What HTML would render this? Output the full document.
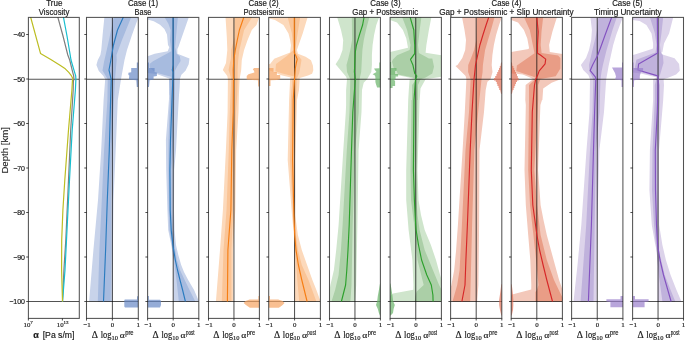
<!DOCTYPE html><html><head><meta charset="utf-8"><style>html,body{margin:0;padding:0;background:#fff;}svg{display:block;will-change:transform;}text{font-family:"Liberation Sans",sans-serif;stroke:#1a1a1a;stroke-width:0.18px;}text.s{font-family:"Liberation Serif",serif;}</style></head><body>
<svg width="685" height="340" viewBox="0 0 685 340">
<defs>
<clipPath id="c0"><rect x="28.40" y="17.40" width="50.90" height="301.00"/></clipPath>
<clipPath id="c1"><rect x="86.50" y="17.40" width="51.80" height="301.00"/></clipPath>
<clipPath id="c2"><rect x="147.60" y="17.40" width="51.20" height="301.00"/></clipPath>
<clipPath id="c3"><rect x="208.50" y="17.40" width="50.90" height="301.00"/></clipPath>
<clipPath id="c4"><rect x="268.70" y="17.40" width="51.70" height="301.00"/></clipPath>
<clipPath id="c5"><rect x="329.50" y="17.40" width="50.90" height="301.00"/></clipPath>
<clipPath id="c6"><rect x="390.10" y="17.40" width="51.30" height="301.00"/></clipPath>
<clipPath id="c7"><rect x="450.60" y="17.40" width="51.20" height="301.00"/></clipPath>
<clipPath id="c8"><rect x="511.20" y="17.40" width="51.20" height="301.00"/></clipPath>
<clipPath id="c9"><rect x="571.60" y="17.40" width="51.30" height="301.00"/></clipPath>
<clipPath id="c10"><rect x="632.60" y="17.40" width="50.90" height="301.00"/></clipPath>
</defs>
<g clip-path="url(#c0)">
<line x1="28.40" y1="79.30" x2="79.30" y2="79.30" stroke="#000" stroke-opacity="0.68" stroke-width="1.05"/>
<line x1="28.40" y1="301.50" x2="79.30" y2="301.50" stroke="#000" stroke-opacity="0.68" stroke-width="1.05"/>
<polyline points="57.8,17.0 63.0,36.0 67.8,55.0 69.7,60.0 72.3,70.6 73.7,75.9 73.9,79.1 73.4,81.0 73.2,90.0 70.7,130.0 68.5,180.0 65.8,240.0 63.9,270.0 62.5,301.5" fill="none" stroke="#7f7f7f" stroke-width="1.2" stroke-linejoin="round"/>
<polyline points="63.4,17.0 67.0,36.0 70.2,55.0 71.0,60.0 74.1,70.6 75.7,75.9 75.9,79.1 75.4,90.0 72.2,130.0 69.5,180.0 66.5,240.0 65.0,270.0 62.5,301.5" fill="none" stroke="#17becf" stroke-width="1.2" stroke-linejoin="round"/>
<polyline points="30.6,17.0 40.5,53.4 50.8,59.4 60.0,65.3 65.3,68.8 68.8,72.3 71.5,75.9 72.8,78.5 72.5,80.0 71.9,90.0 68.5,130.0 64.8,180.0 62.9,210.0 61.7,240.0 61.6,270.0 62.5,301.5" fill="none" stroke="#bcbd22" stroke-width="1.2" stroke-linejoin="round"/>
</g>
<g clip-path="url(#c1)">
<polygon points="104.4,17.0 102.6,35.0 101.3,50.0 100.4,55.0 97.8,60.0 96.4,65.0 98.8,71.0 103.4,76.0 105.2,79.3 103.6,100.0 101.2,150.0 98.0,200.0 93.4,250.0 89.1,301.5 112.5,301.5 112.9,250.0 113.5,200.0 115.7,150.0 117.8,100.0 121.0,79.3 124.5,60.0 127.0,50.0 132.0,35.0 138.5,17.0" fill="#c8d3ea"/>
<polygon points="113.8,17.0 109.0,40.0 105.6,55.0 104.0,62.0 102.5,70.4 107.7,79.3 107.4,100.0 104.1,150.0 101.8,200.0 99.4,250.0 97.8,301.5 110.7,301.5 111.3,250.0 111.0,200.0 111.4,150.0 114.0,100.0 115.0,79.3 116.7,60.0 116.5,55.0 122.0,40.0 131.3,17.0" fill="#a7bbdf"/>
<line x1="112.40" y1="17.40" x2="112.40" y2="318.40" stroke="#000" stroke-opacity="0.68" stroke-width="1.05"/>
<line x1="86.50" y1="79.30" x2="138.30" y2="79.30" stroke="#000" stroke-opacity="0.68" stroke-width="1.05"/>
<line x1="86.50" y1="301.50" x2="138.30" y2="301.50" stroke="#000" stroke-opacity="0.68" stroke-width="1.05"/>
<polyline points="123.4,17.0 117.5,30.0 113.5,45.0 111.7,55.0 110.5,62.0 109.0,70.0 111.2,79.3 110.6,100.0 109.3,150.0 107.3,200.0 105.6,250.0 103.5,301.5" fill="none" stroke="#2a7bbf" stroke-width="1.15" stroke-linejoin="round"/>
<polygon points="138.3,62.5 136.8,62.5 136.8,68.1 131.2,68.1 131.2,72.2 128.4,72.8 128.4,75.0 129.3,75.4 128.9,79.6 136.3,80.2 136.8,87.0 138.3,87.0" fill="#6889c6" fill-opacity="0.7"/>
<polygon points="138.3,296.2 137.0,296.2 137.0,299.4 124.8,299.4 124.3,300.2 124.3,306.5 125.0,307.4 138.3,307.4" fill="#6889c6" fill-opacity="0.7"/>
</g>
<g clip-path="url(#c2)">
<polygon points="147.6,17.0 188.9,17.0 178.4,47.0 177.4,49.0 177.4,53.8 189.5,58.6 188.7,64.3 185.5,70.7 181.4,74.8 179.8,79.3 179.0,95.0 169.3,95.0 170.0,79.3 168.4,78.2 156.6,74.1 147.6,73.0 147.6,56.2 154.7,53.8 167.7,51.3 169.3,47.3 168.0,45.0 167.0,34.4 164.4,29.1 160.0,24.7 153.8,21.2 147.6,19.4" fill="#c8d3ea"/>
<polygon points="170.0,79.3 169.3,95.0 165.9,140.0 166.2,170.0 167.4,210.0 168.2,230.0 171.3,245.0 173.4,260.0 173.4,301.5 199.0,301.5 194.1,290.0 188.2,280.0 184.0,272.0 181.2,265.0 178.3,255.0 176.0,245.0 174.5,230.0 174.0,210.0 174.2,170.0 176.0,150.0 179.0,95.0 179.8,79.3" fill="#c8d3ea"/>
<polygon points="164.4,17.0 177.9,17.0 175.1,47.0 176.6,53.8 179.8,56.2 180.6,61.0 177.4,65.9 175.0,70.7 175.0,79.3 174.5,100.0 170.0,100.0 169.3,79.3 171.9,77.0 155.4,72.4 149.5,67.6 149.5,64.1 153.0,61.2 171.3,51.2 170.0,40.0 170.6,30.0 168.4,23.8" fill="#a7bbdf"/>
<polygon points="169.3,79.3 170.0,100.0 168.5,140.0 168.4,170.0 168.7,210.0 169.5,230.0 171.8,245.0 174.1,260.0 176.5,280.0 178.8,301.5 195.3,301.5 189.5,290.0 184.7,280.0 180.0,270.0 176.9,260.0 174.5,245.0 172.5,230.0 171.8,210.0 171.6,170.0 173.4,140.0 174.5,100.0 175.0,79.3" fill="#a7bbdf"/>
<line x1="173.20" y1="17.40" x2="173.20" y2="318.40" stroke="#000" stroke-opacity="0.68" stroke-width="1.05"/>
<line x1="147.60" y1="79.30" x2="198.80" y2="79.30" stroke="#000" stroke-opacity="0.68" stroke-width="1.05"/>
<line x1="147.60" y1="301.50" x2="198.80" y2="301.50" stroke="#000" stroke-opacity="0.68" stroke-width="1.05"/>
<polyline points="173.1,17.0 173.1,65.0 172.3,70.0 173.1,72.0 172.0,100.0 170.5,140.0 169.9,170.0 170.2,210.0 171.2,230.0 172.9,245.0 175.3,260.0 177.5,270.0 180.0,280.0 182.6,290.0 185.4,301.5" fill="none" stroke="#2a7bbf" stroke-width="1.15" stroke-linejoin="round"/>
<polygon points="147.6,62.5 149.0,62.5 149.0,68.1 154.6,68.1 154.6,72.0 156.9,72.4 156.9,76.0 153.6,76.4 153.6,79.6 149.6,80.2 149.0,87.0 147.6,87.0" fill="#6889c6" fill-opacity="0.7"/>
<polygon points="147.6,296.0 148.9,296.0 148.9,299.7 160.1,299.7 161.0,301.0 161.0,305.0 160.0,307.4 147.6,307.4" fill="#6889c6" fill-opacity="0.7"/>
</g>
<g clip-path="url(#c3)">
<polygon points="225.5,17.0 226.8,37.0 227.3,50.0 226.0,62.9 222.8,70.1 227.3,75.9 227.9,79.3 227.6,112.0 225.9,150.0 222.9,210.0 220.0,250.0 215.9,301.5 233.2,301.5 233.2,250.0 235.3,210.0 236.2,150.0 238.5,112.0 238.9,94.0 239.6,79.3 241.2,70.0 241.8,60.0 244.1,50.0 247.6,40.0 251.8,30.0 256.5,25.0 259.2,17.0" fill="#fcd9bb"/>
<polygon points="234.8,17.0 234.6,37.0 231.2,50.0 230.9,59.0 229.9,62.9 228.6,70.1 230.5,75.9 231.2,79.3 229.8,112.0 228.8,150.0 226.5,210.0 223.5,250.0 221.8,301.5 231.5,301.5 231.5,250.0 233.0,210.0 235.0,150.0 236.0,112.0 237.3,94.0 237.6,79.3 237.6,70.0 238.2,60.0 239.4,50.0 241.8,40.0 244.1,30.0 252.3,17.0" fill="#fac496"/>
<line x1="233.95" y1="17.40" x2="233.95" y2="318.40" stroke="#000" stroke-opacity="0.68" stroke-width="1.05"/>
<line x1="208.50" y1="79.30" x2="259.40" y2="79.30" stroke="#000" stroke-opacity="0.68" stroke-width="1.05"/>
<line x1="208.50" y1="301.50" x2="259.40" y2="301.50" stroke="#000" stroke-opacity="0.68" stroke-width="1.05"/>
<polyline points="243.9,17.0 239.4,30.0 237.3,40.0 235.3,50.0 233.8,60.0 233.2,70.0 233.4,79.3 233.2,112.0 231.8,150.0 230.9,210.0 227.9,250.0 227.4,301.5" fill="none" stroke="#f67e14" stroke-width="1.15" stroke-linejoin="round"/>
<polygon points="259.4,68.1 254.0,68.1 252.8,69.4 254.0,70.8 254.4,72.5 248.4,74.2 246.7,76.0 246.7,79.6 257.9,80.3 258.2,86.5 259.4,86.5" fill="#f6a462" fill-opacity="0.7"/>
<polygon points="259.4,296.1 258.4,296.1 258.4,299.4 249.6,299.4 245.5,301.0 243.7,303.0 245.9,305.0 248.8,307.0 249.9,307.7 259.4,307.7" fill="#f6a462" fill-opacity="0.7"/>
</g>
<g clip-path="url(#c4)">
<polygon points="268.7,17.0 307.7,17.0 302.7,33.4 296.9,50.0 298.0,53.8 305.6,56.8 311.0,60.3 312.9,65.6 313.3,70.3 312.1,73.8 308.0,75.6 299.8,78.0 299.4,79.3 299.0,90.0 290.0,90.0 290.1,79.3 290.7,77.6 281.3,75.3 273.0,71.8 268.7,70.0 268.7,64.1 270.1,64.1 274.2,58.8 290.1,52.4 291.0,45.2 290.1,40.0 288.5,33.4 283.4,25.0 275.0,20.0 269.2,18.5" fill="#fcd9bb"/>
<polygon points="290.1,79.3 289.1,100.0 287.7,160.0 292.0,215.0 293.9,235.0 294.4,245.0 294.4,301.5 320.6,301.5 316.4,290.0 312.4,280.0 307.1,265.0 301.8,250.0 297.9,235.0 295.2,215.0 295.3,160.0 297.0,100.0 299.0,90.0 299.4,79.3" fill="#fcd9bb"/>
<polygon points="287.6,17.0 300.2,17.0 297.7,33.0 295.2,50.0 296.2,53.0 301.5,59.7 300.9,63.8 299.2,73.2 296.5,79.3 296.0,100.0 290.9,100.0 292.5,79.3 294.2,76.5 282.5,73.5 275.4,71.2 276.0,64.1 286.8,56.0 293.5,50.0 291.8,33.0" fill="#fac496"/>
<polygon points="292.5,79.3 290.9,100.0 290.0,160.0 293.0,215.0 294.3,235.0 295.2,250.0 297.3,280.0 299.2,301.5 316.4,301.5 308.5,280.0 301.8,265.0 297.9,250.0 296.0,235.0 294.7,215.0 294.0,160.0 296.0,100.0 296.5,79.3" fill="#fac496"/>
<line x1="294.55" y1="17.40" x2="294.55" y2="318.40" stroke="#000" stroke-opacity="0.68" stroke-width="1.05"/>
<line x1="268.70" y1="79.30" x2="320.40" y2="79.30" stroke="#000" stroke-opacity="0.68" stroke-width="1.05"/>
<line x1="268.70" y1="301.50" x2="320.40" y2="301.50" stroke="#000" stroke-opacity="0.68" stroke-width="1.05"/>
<polyline points="294.3,17.0 294.3,53.0 295.5,55.0 297.2,59.1 296.3,63.0 295.3,68.5 294.5,79.3 293.2,100.0 292.6,160.0 293.9,215.0 294.7,235.0 296.0,250.0 298.4,265.0 301.8,280.0 307.1,301.5" fill="none" stroke="#f67e14" stroke-width="1.15" stroke-linejoin="round"/>
<polygon points="268.7,68.1 273.5,68.1 273.5,72.0 276.9,72.0 276.9,75.0 280.2,75.0 280.2,79.3 276.9,80.0 270.5,80.3 270.5,86.0 268.7,86.0" fill="#f6a462" fill-opacity="0.7"/>
<polygon points="268.7,296.1 270.0,296.1 270.0,299.4 278.2,299.4 282.6,301.0 284.5,303.0 282.6,305.0 280.0,307.0 278.7,307.7 268.7,307.7" fill="#f6a462" fill-opacity="0.7"/>
</g>
<g clip-path="url(#c5)">
<polygon points="337.1,17.0 341.0,30.0 343.2,40.0 342.5,50.0 339.6,58.0 335.6,64.3 341.9,71.8 346.1,76.8 347.0,79.3 346.1,90.0 346.1,105.0 345.8,112.0 343.3,150.0 338.6,225.0 336.2,250.0 333.9,270.0 330.4,285.0 329.5,290.0 329.5,301.5 355.1,301.5 356.2,285.0 357.4,225.0 358.6,150.0 361.5,112.0 362.0,90.0 363.7,82.7 367.1,79.3 371.3,72.0 371.9,65.0 371.9,55.0 372.6,45.0 374.1,35.0 376.3,25.0 379.3,17.0" fill="#cfe5cc"/>
<polygon points="351.8,17.0 352.1,40.0 350.3,50.0 348.4,58.0 346.5,65.0 347.0,72.0 350.3,79.3 349.5,112.0 346.8,150.0 342.6,225.0 340.9,250.0 338.6,275.0 335.1,290.0 331.5,301.5 350.4,301.5 351.5,285.0 352.7,225.0 355.1,150.0 358.7,112.0 359.5,79.3 361.2,72.0 361.6,65.0 362.4,50.0 363.8,40.0 366.0,30.0 369.4,17.0" fill="#abcfa7"/>
<line x1="354.95" y1="17.40" x2="354.95" y2="318.40" stroke="#000" stroke-opacity="0.68" stroke-width="1.05"/>
<line x1="329.50" y1="79.30" x2="380.40" y2="79.30" stroke="#000" stroke-opacity="0.68" stroke-width="1.05"/>
<line x1="329.50" y1="301.50" x2="380.40" y2="301.50" stroke="#000" stroke-opacity="0.68" stroke-width="1.05"/>
<polyline points="364.1,17.0 362.6,25.0 359.4,35.0 356.5,45.0 355.3,52.0 354.7,65.0 354.4,72.0 355.3,79.3 352.8,112.0 351.5,150.0 349.2,225.0 348.0,250.0 346.8,270.0 345.6,285.0 341.4,301.5" fill="none" stroke="#2ca02c" stroke-width="1.15" stroke-linejoin="round"/>
<polygon points="380.4,62.5 379.3,62.5 379.3,68.3 374.1,68.5 374.9,70.0 376.5,72.0 372.6,74.2 374.9,75.5 375.4,77.0 375.4,82.0 375.9,84.0 377.1,87.6 380.4,87.6" fill="#68b468" fill-opacity="0.7"/>
<polygon points="380.4,283.6 380.0,283.6 378.9,290.0 377.8,296.0 377.2,301.0 376.0,305.0 377.8,309.0 378.9,313.0 379.9,315.4 380.4,315.4" fill="#68b468" fill-opacity="0.7"/>
</g>
<g clip-path="url(#c6)">
<polygon points="390.1,17.0 431.4,17.0 428.9,30.0 426.4,45.0 425.6,52.7 441.4,55.2 441.4,76.8 425.6,79.3 420.5,88.5 419.7,100.0 408.2,100.0 408.8,90.0 409.6,79.3 414.7,79.3 408.8,77.6 397.0,75.1 390.1,75.1 390.1,51.9 408.0,47.7 406.3,38.5 402.9,30.0 397.0,22.5 390.1,20.0" fill="#cfe5cc"/>
<polygon points="408.2,100.0 406.2,170.0 406.2,200.0 408.6,230.0 412.4,260.0 413.4,285.0 413.3,289.7 393.0,293.5 390.1,296.0 390.1,301.5 441.6,301.5 441.6,280.0 440.1,275.0 436.0,260.0 430.9,245.0 424.7,230.0 421.0,215.0 418.5,200.0 417.5,170.0 419.6,100.0" fill="#cfe5cc"/>
<polygon points="402.1,17.0 421.4,17.0 419.7,30.0 418.0,45.0 418.9,53.0 428.9,58.6 432.3,58.4 434.0,66.7 432.3,73.4 425.6,77.6 420.5,79.3 418.0,85.0 418.0,100.0 412.0,100.0 412.1,85.0 416.3,79.3 412.1,77.2 408.0,76.5 398.0,74.5 396.5,70.5 393.7,68.0 392.0,61.7 392.9,59.4 397.1,55.2 409.6,50.0 410.5,45.0 407.1,30.0" fill="#abcfa7"/>
<polygon points="411.5,100.0 410.5,170.0 411.0,200.0 414.8,230.0 417.5,260.0 423.7,285.0 416.5,291.8 415.4,296.6 414.8,301.5 441.6,301.5 441.6,290.0 439.1,285.0 432.9,270.0 424.7,250.0 419.6,230.0 417.5,215.0 416.5,200.0 416.0,170.0 417.5,100.0" fill="#abcfa7"/>
<line x1="415.75" y1="17.40" x2="415.75" y2="318.40" stroke="#000" stroke-opacity="0.68" stroke-width="1.05"/>
<line x1="390.10" y1="79.30" x2="441.40" y2="79.30" stroke="#000" stroke-opacity="0.68" stroke-width="1.05"/>
<line x1="390.10" y1="301.50" x2="441.40" y2="301.50" stroke="#000" stroke-opacity="0.68" stroke-width="1.05"/>
<polyline points="410.1,17.0 413.8,30.0 414.7,45.0 414.7,53.6 410.5,59.4 413.0,65.3 414.7,73.4 416.8,76.0 415.5,79.3 414.0,100.0 413.4,170.0 414.4,200.0 415.4,220.0 416.1,230.0 418.5,245.0 421.6,260.0 426.8,275.0 431.3,285.0 432.9,295.0 433.1,301.5" fill="none" stroke="#2ca02c" stroke-width="1.15" stroke-linejoin="round"/>
<polygon points="390.1,62.0 391.1,62.0 391.1,68.0 396.5,68.0 396.5,71.0 395.1,71.0 395.1,74.0 398.1,74.0 398.1,76.5 395.6,76.5 395.6,79.0 394.6,79.0 394.6,81.0 395.1,81.0 395.1,86.0 392.6,86.0 392.6,88.0 390.1,88.0" fill="#68b468" fill-opacity="0.7"/>
<polygon points="390.1,283.6 390.5,283.6 391.6,290.0 392.5,296.0 393.1,301.0 394.8,305.0 393.6,309.0 393.0,313.0 390.6,315.4 390.1,315.4" fill="#68b468" fill-opacity="0.7"/>
</g>
<g clip-path="url(#c7)">
<polygon points="462.0,17.0 464.5,30.0 466.0,40.0 465.2,50.0 462.3,58.0 457.5,65.0 455.5,66.0 460.6,70.9 465.6,76.0 466.4,79.3 464.8,112.0 462.6,150.0 457.9,225.0 456.1,250.0 454.2,270.0 451.4,285.0 450.6,288.0 450.6,301.5 477.2,301.5 478.4,285.0 479.1,225.0 479.5,150.0 484.0,112.0 485.7,90.0 487.4,81.8 490.5,79.3 492.5,72.0 491.7,65.0 492.4,55.0 493.9,45.0 496.1,35.0 499.1,25.0 501.8,17.0" fill="#f3c8ba"/>
<polygon points="477.0,17.0 476.3,40.0 474.1,50.0 471.1,58.0 468.2,65.0 468.1,72.0 470.6,79.3 469.0,112.0 465.5,150.0 461.9,225.0 459.6,270.0 457.2,285.0 452.5,301.5 470.2,301.5 470.6,285.0 472.1,225.0 474.4,150.0 478.2,112.0 481.5,79.3 482.6,72.0 482.9,65.0 485.1,50.0 488.0,40.0 491.0,30.0 494.6,17.0" fill="#e99d86"/>
<line x1="476.20" y1="17.40" x2="476.20" y2="318.40" stroke="#000" stroke-opacity="0.68" stroke-width="1.05"/>
<line x1="450.60" y1="79.30" x2="501.80" y2="79.30" stroke="#000" stroke-opacity="0.68" stroke-width="1.05"/>
<line x1="450.60" y1="301.50" x2="501.80" y2="301.50" stroke="#000" stroke-opacity="0.68" stroke-width="1.05"/>
<polyline points="488.8,17.0 486.1,25.0 482.9,35.0 479.9,45.0 477.7,55.0 475.5,65.0 474.8,72.0 474.0,79.3 472.0,112.0 470.2,150.0 467.4,225.0 465.9,260.0 465.0,285.0 461.9,301.5" fill="none" stroke="#d62728" stroke-width="1.15" stroke-linejoin="round"/>
<polygon points="501.8,62.5 501.0,62.5 500.6,66.0 499.8,66.0 499.8,68.0 499.0,68.0 499.0,70.0 498.2,70.0 498.2,72.0 497.2,72.0 497.2,74.0 496.4,74.0 496.4,76.0 495.2,76.0 495.2,78.0 494.0,78.0 494.0,80.5 495.8,80.5 495.8,82.0 496.8,82.0 496.8,84.0 497.4,84.0 497.4,86.0 498.5,86.0 498.5,88.0 499.2,88.0 499.2,90.0 500.2,90.0 501.0,93.8 501.8,93.8" fill="#df6f55" fill-opacity="0.7"/>
<polygon points="501.8,284.2 501.3,284.2 500.3,292.0 499.2,300.0 499.2,305.0 500.0,310.0 501.3,315.4 501.8,315.4" fill="#df6f55" fill-opacity="0.7"/>
</g>
<g clip-path="url(#c8)">
<polygon points="511.2,17.0 557.0,17.0 552.4,31.8 549.1,45.0 549.8,52.0 562.4,54.0 562.4,78.5 551.6,82.7 543.2,88.5 542.4,100.0 525.3,100.0 525.6,85.0 533.1,79.3 530.0,77.5 522.8,74.5 516.4,73.8 511.2,73.4 511.2,52.0 528.6,49.0 529.0,47.7 527.3,38.5 523.9,30.1 518.0,22.5 511.2,20.0" fill="#f3c8ba"/>
<polygon points="525.3,100.0 525.8,105.0 524.5,170.0 525.8,205.0 528.2,235.0 530.3,260.0 531.3,285.0 531.2,289.6 512.1,294.6 511.2,296.0 511.2,301.5 562.6,301.5 562.6,290.0 559.1,280.0 555.0,265.0 550.9,250.0 546.8,235.0 543.5,220.0 540.6,205.0 538.1,170.0 540.4,105.0 542.0,100.0" fill="#f3c8ba"/>
<polygon points="523.9,17.0 543.2,17.0 541.5,31.8 540.7,45.0 541.6,53.0 558.1,55.6 560.4,57.9 560.4,68.5 555.7,76.2 540.4,79.1 538.2,85.0 538.2,100.0 529.0,100.0 529.0,85.0 536.3,78.0 532.2,76.2 522.8,73.2 516.3,70.9 516.9,65.6 534.5,53.2 532.8,45.0 529.8,30.0" fill="#e99d86"/>
<polygon points="529.0,100.0 528.2,170.0 530.0,205.0 533.4,235.0 536.1,260.0 538.5,285.0 537.0,290.0 535.4,292.0 535.4,301.5 562.6,301.5 562.6,298.0 561.2,295.0 554.0,280.0 546.8,260.0 540.6,235.0 537.0,205.0 534.4,170.0 538.2,100.0" fill="#e99d86"/>
<line x1="536.80" y1="17.40" x2="536.80" y2="318.40" stroke="#000" stroke-opacity="0.68" stroke-width="1.05"/>
<line x1="511.20" y1="79.30" x2="562.40" y2="79.30" stroke="#000" stroke-opacity="0.68" stroke-width="1.05"/>
<line x1="511.20" y1="301.50" x2="562.40" y2="301.50" stroke="#000" stroke-opacity="0.68" stroke-width="1.05"/>
<polyline points="536.8,17.0 538.2,31.8 537.5,45.0 537.5,53.2 540.4,55.0 545.7,59.1 545.1,63.8 542.2,67.4 539.2,70.9 537.5,75.6 535.7,79.3 534.5,85.0 532.3,112.0 531.3,170.0 532.8,205.0 536.9,235.0 539.6,250.0 543.1,265.0 546.8,280.0 552.5,301.5" fill="none" stroke="#d62728" stroke-width="1.15" stroke-linejoin="round"/>
<polygon points="511.2,62.5 512.0,62.5 512.4,66.0 513.4,66.0 513.4,68.0 514.2,68.0 514.2,70.0 515.0,70.0 515.0,72.0 516.0,72.0 516.0,74.0 517.0,74.0 517.0,76.0 517.8,76.0 517.8,78.0 518.6,78.0 518.6,80.5 517.0,80.5 517.0,82.0 516.0,82.0 516.0,84.0 515.2,84.0 515.2,86.0 514.4,86.0 514.4,88.0 513.6,88.0 513.6,90.0 512.8,90.0 512.0,93.8 511.2,93.8" fill="#df6f55" fill-opacity="0.7"/>
<polygon points="511.2,284.2 511.7,284.2 512.7,292.0 513.3,300.0 513.3,305.0 513.0,310.0 511.7,315.4 511.2,315.4" fill="#df6f55" fill-opacity="0.7"/>
</g>
<g clip-path="url(#c9)">
<polygon points="590.4,17.0 591.9,30.0 591.2,40.0 589.0,50.0 586.0,58.0 580.9,65.0 583.2,70.1 588.3,75.1 590.0,79.3 589.5,112.0 586.5,150.0 581.3,225.0 577.5,265.0 573.5,301.5 596.6,301.5 597.3,225.0 599.4,150.0 604.0,112.0 606.2,79.3 607.0,75.0 608.8,65.0 611.0,55.0 613.2,45.0 616.2,35.0 619.9,25.0 622.9,17.0" fill="#dcd3ea"/>
<polygon points="598.5,17.0 597.1,30.0 594.9,40.0 592.4,50.0 589.0,65.0 589.5,72.0 593.3,79.3 592.5,112.0 590.0,150.0 586.2,225.0 580.6,301.5 593.5,301.5 594.7,225.0 595.9,150.0 599.5,112.0 600.5,79.3 601.5,72.0 602.9,65.0 606.6,50.0 609.6,40.0 612.5,30.0 616.9,17.0" fill="#c0b2dc"/>
<line x1="597.25" y1="17.40" x2="597.25" y2="318.40" stroke="#000" stroke-opacity="0.68" stroke-width="1.05"/>
<line x1="571.60" y1="79.30" x2="622.90" y2="79.30" stroke="#000" stroke-opacity="0.68" stroke-width="1.05"/>
<line x1="571.60" y1="301.50" x2="622.90" y2="301.50" stroke="#000" stroke-opacity="0.68" stroke-width="1.05"/>
<polyline points="611.8,17.0 608.8,25.0 605.1,35.0 601.5,45.0 597.8,55.0 592.6,65.0 590.2,70.6 595.5,77.2 595.8,79.3 594.6,112.0 593.5,150.0 591.4,225.0 588.4,301.5" fill="none" stroke="#8352c0" stroke-width="1.15" stroke-linejoin="round"/>
<polygon points="622.9,62.5 622.0,62.5 622.0,67.5 612.0,67.5 615.0,73.0 616.0,76.5 615.0,79.5 621.5,80.2 621.5,87.0 622.9,87.0" fill="#9a7fcc" fill-opacity="0.7"/>
<polygon points="622.9,296.0 620.5,296.0 620.5,299.2 606.4,299.2 606.4,301.6 610.4,302.0 610.4,307.3 622.9,307.3" fill="#9a7fcc" fill-opacity="0.7"/>
</g>
<g clip-path="url(#c10)">
<polygon points="632.6,17.0 673.3,17.0 669.1,33.4 664.0,43.5 662.4,52.0 660.0,53.8 674.6,58.2 679.1,64.1 679.8,70.7 676.1,74.4 668.8,77.4 663.6,79.3 664.0,85.0 663.2,100.0 653.1,100.0 653.1,79.3 657.0,77.5 640.8,73.5 632.6,72.6 632.6,55.0 634.9,54.6 652.6,48.7 653.1,47.7 653.1,43.5 651.5,33.4 646.4,25.0 639.7,20.9 632.6,20.0" fill="#dcd3ea"/>
<polygon points="653.1,100.0 649.9,150.0 649.4,190.0 651.8,225.0 655.3,245.0 657.6,255.0 657.6,301.5 681.4,301.5 676.5,290.0 670.6,275.0 665.9,260.0 662.4,245.0 659.2,225.0 659.0,190.0 659.0,150.0 663.2,100.0" fill="#dcd3ea"/>
<polygon points="649.8,17.0 663.2,17.0 661.5,33.0 659.9,45.0 660.7,52.0 662.9,55.3 663.5,63.0 660.0,75.0 658.2,79.3 659.9,85.0 659.9,100.0 654.8,100.0 654.8,85.0 657.0,76.6 640.8,72.2 634.9,70.0 634.9,67.0 636.4,59.7 655.5,52.4 656.5,45.0 654.8,33.0" fill="#c0b2dc"/>
<polygon points="654.8,100.0 652.5,150.0 652.0,190.0 654.0,225.0 656.5,250.0 658.8,275.0 662.4,301.5 675.3,301.5 670.6,290.0 664.7,275.0 658.8,250.0 657.8,225.0 657.5,190.0 657.5,150.0 659.9,100.0" fill="#c0b2dc"/>
<line x1="658.05" y1="17.40" x2="658.05" y2="318.40" stroke="#000" stroke-opacity="0.68" stroke-width="1.05"/>
<line x1="632.60" y1="79.30" x2="683.50" y2="79.30" stroke="#000" stroke-opacity="0.68" stroke-width="1.05"/>
<line x1="632.60" y1="301.50" x2="683.50" y2="301.50" stroke="#000" stroke-opacity="0.68" stroke-width="1.05"/>
<polyline points="657.3,17.0 657.7,53.1 638.6,64.1 637.9,70.0 657.7,75.9 658.2,79.3 657.3,112.0 655.3,150.0 655.5,190.0 656.5,225.0 657.6,245.0 660.0,260.0 663.5,275.0 667.8,290.0 671.1,301.5" fill="none" stroke="#8352c0" stroke-width="1.15" stroke-linejoin="round"/>
<polygon points="632.6,62.5 633.6,62.5 633.6,68.1 643.1,68.1 643.1,70.9 640.9,72.0 639.8,76.0 639.8,79.5 634.1,80.2 633.8,87.0 632.6,87.0" fill="#9a7fcc" fill-opacity="0.7"/>
<polygon points="632.6,296.0 635.0,296.0 635.0,299.2 648.6,299.2 648.6,301.6 644.6,302.0 644.6,307.3 632.6,307.3" fill="#9a7fcc" fill-opacity="0.7"/>
</g>
<rect x="28.40" y="17.40" width="50.90" height="301.00" fill="none" stroke="#000" stroke-opacity="0.68" stroke-width="1.05"/>
<line x1="26.20" y1="34.50" x2="28.40" y2="34.50" stroke="#000" stroke-opacity="0.68" stroke-width="1.05"/>
<line x1="26.20" y1="79.00" x2="28.40" y2="79.00" stroke="#000" stroke-opacity="0.68" stroke-width="1.05"/>
<line x1="26.20" y1="123.50" x2="28.40" y2="123.50" stroke="#000" stroke-opacity="0.68" stroke-width="1.05"/>
<line x1="26.20" y1="168.00" x2="28.40" y2="168.00" stroke="#000" stroke-opacity="0.68" stroke-width="1.05"/>
<line x1="26.20" y1="212.50" x2="28.40" y2="212.50" stroke="#000" stroke-opacity="0.68" stroke-width="1.05"/>
<line x1="26.20" y1="257.00" x2="28.40" y2="257.00" stroke="#000" stroke-opacity="0.68" stroke-width="1.05"/>
<line x1="26.20" y1="301.50" x2="28.40" y2="301.50" stroke="#000" stroke-opacity="0.68" stroke-width="1.05"/>
<line x1="28.40" y1="318.40" x2="28.40" y2="320.60" stroke="#000" stroke-opacity="0.68" stroke-width="1.05"/>
<line x1="62.40" y1="318.40" x2="62.40" y2="320.60" stroke="#000" stroke-opacity="0.68" stroke-width="1.05"/>
<rect x="86.50" y="17.40" width="51.80" height="301.00" fill="none" stroke="#000" stroke-opacity="0.68" stroke-width="1.05"/>
<line x1="84.30" y1="34.50" x2="86.50" y2="34.50" stroke="#000" stroke-opacity="0.68" stroke-width="1.05"/>
<line x1="84.30" y1="79.00" x2="86.50" y2="79.00" stroke="#000" stroke-opacity="0.68" stroke-width="1.05"/>
<line x1="84.30" y1="123.50" x2="86.50" y2="123.50" stroke="#000" stroke-opacity="0.68" stroke-width="1.05"/>
<line x1="84.30" y1="168.00" x2="86.50" y2="168.00" stroke="#000" stroke-opacity="0.68" stroke-width="1.05"/>
<line x1="84.30" y1="212.50" x2="86.50" y2="212.50" stroke="#000" stroke-opacity="0.68" stroke-width="1.05"/>
<line x1="84.30" y1="257.00" x2="86.50" y2="257.00" stroke="#000" stroke-opacity="0.68" stroke-width="1.05"/>
<line x1="84.30" y1="301.50" x2="86.50" y2="301.50" stroke="#000" stroke-opacity="0.68" stroke-width="1.05"/>
<line x1="86.50" y1="318.40" x2="86.50" y2="320.60" stroke="#000" stroke-opacity="0.68" stroke-width="1.05"/>
<line x1="112.40" y1="318.40" x2="112.40" y2="320.60" stroke="#000" stroke-opacity="0.68" stroke-width="1.05"/>
<line x1="138.30" y1="318.40" x2="138.30" y2="320.60" stroke="#000" stroke-opacity="0.68" stroke-width="1.05"/>
<rect x="147.60" y="17.40" width="51.20" height="301.00" fill="none" stroke="#000" stroke-opacity="0.68" stroke-width="1.05"/>
<line x1="145.40" y1="34.50" x2="147.60" y2="34.50" stroke="#000" stroke-opacity="0.68" stroke-width="1.05"/>
<line x1="145.40" y1="79.00" x2="147.60" y2="79.00" stroke="#000" stroke-opacity="0.68" stroke-width="1.05"/>
<line x1="145.40" y1="123.50" x2="147.60" y2="123.50" stroke="#000" stroke-opacity="0.68" stroke-width="1.05"/>
<line x1="145.40" y1="168.00" x2="147.60" y2="168.00" stroke="#000" stroke-opacity="0.68" stroke-width="1.05"/>
<line x1="145.40" y1="212.50" x2="147.60" y2="212.50" stroke="#000" stroke-opacity="0.68" stroke-width="1.05"/>
<line x1="145.40" y1="257.00" x2="147.60" y2="257.00" stroke="#000" stroke-opacity="0.68" stroke-width="1.05"/>
<line x1="145.40" y1="301.50" x2="147.60" y2="301.50" stroke="#000" stroke-opacity="0.68" stroke-width="1.05"/>
<line x1="147.60" y1="318.40" x2="147.60" y2="320.60" stroke="#000" stroke-opacity="0.68" stroke-width="1.05"/>
<line x1="173.20" y1="318.40" x2="173.20" y2="320.60" stroke="#000" stroke-opacity="0.68" stroke-width="1.05"/>
<line x1="198.80" y1="318.40" x2="198.80" y2="320.60" stroke="#000" stroke-opacity="0.68" stroke-width="1.05"/>
<rect x="208.50" y="17.40" width="50.90" height="301.00" fill="none" stroke="#000" stroke-opacity="0.68" stroke-width="1.05"/>
<line x1="206.30" y1="34.50" x2="208.50" y2="34.50" stroke="#000" stroke-opacity="0.68" stroke-width="1.05"/>
<line x1="206.30" y1="79.00" x2="208.50" y2="79.00" stroke="#000" stroke-opacity="0.68" stroke-width="1.05"/>
<line x1="206.30" y1="123.50" x2="208.50" y2="123.50" stroke="#000" stroke-opacity="0.68" stroke-width="1.05"/>
<line x1="206.30" y1="168.00" x2="208.50" y2="168.00" stroke="#000" stroke-opacity="0.68" stroke-width="1.05"/>
<line x1="206.30" y1="212.50" x2="208.50" y2="212.50" stroke="#000" stroke-opacity="0.68" stroke-width="1.05"/>
<line x1="206.30" y1="257.00" x2="208.50" y2="257.00" stroke="#000" stroke-opacity="0.68" stroke-width="1.05"/>
<line x1="206.30" y1="301.50" x2="208.50" y2="301.50" stroke="#000" stroke-opacity="0.68" stroke-width="1.05"/>
<line x1="208.50" y1="318.40" x2="208.50" y2="320.60" stroke="#000" stroke-opacity="0.68" stroke-width="1.05"/>
<line x1="233.95" y1="318.40" x2="233.95" y2="320.60" stroke="#000" stroke-opacity="0.68" stroke-width="1.05"/>
<line x1="259.40" y1="318.40" x2="259.40" y2="320.60" stroke="#000" stroke-opacity="0.68" stroke-width="1.05"/>
<rect x="268.70" y="17.40" width="51.70" height="301.00" fill="none" stroke="#000" stroke-opacity="0.68" stroke-width="1.05"/>
<line x1="266.50" y1="34.50" x2="268.70" y2="34.50" stroke="#000" stroke-opacity="0.68" stroke-width="1.05"/>
<line x1="266.50" y1="79.00" x2="268.70" y2="79.00" stroke="#000" stroke-opacity="0.68" stroke-width="1.05"/>
<line x1="266.50" y1="123.50" x2="268.70" y2="123.50" stroke="#000" stroke-opacity="0.68" stroke-width="1.05"/>
<line x1="266.50" y1="168.00" x2="268.70" y2="168.00" stroke="#000" stroke-opacity="0.68" stroke-width="1.05"/>
<line x1="266.50" y1="212.50" x2="268.70" y2="212.50" stroke="#000" stroke-opacity="0.68" stroke-width="1.05"/>
<line x1="266.50" y1="257.00" x2="268.70" y2="257.00" stroke="#000" stroke-opacity="0.68" stroke-width="1.05"/>
<line x1="266.50" y1="301.50" x2="268.70" y2="301.50" stroke="#000" stroke-opacity="0.68" stroke-width="1.05"/>
<line x1="268.70" y1="318.40" x2="268.70" y2="320.60" stroke="#000" stroke-opacity="0.68" stroke-width="1.05"/>
<line x1="294.55" y1="318.40" x2="294.55" y2="320.60" stroke="#000" stroke-opacity="0.68" stroke-width="1.05"/>
<line x1="320.40" y1="318.40" x2="320.40" y2="320.60" stroke="#000" stroke-opacity="0.68" stroke-width="1.05"/>
<rect x="329.50" y="17.40" width="50.90" height="301.00" fill="none" stroke="#000" stroke-opacity="0.68" stroke-width="1.05"/>
<line x1="327.30" y1="34.50" x2="329.50" y2="34.50" stroke="#000" stroke-opacity="0.68" stroke-width="1.05"/>
<line x1="327.30" y1="79.00" x2="329.50" y2="79.00" stroke="#000" stroke-opacity="0.68" stroke-width="1.05"/>
<line x1="327.30" y1="123.50" x2="329.50" y2="123.50" stroke="#000" stroke-opacity="0.68" stroke-width="1.05"/>
<line x1="327.30" y1="168.00" x2="329.50" y2="168.00" stroke="#000" stroke-opacity="0.68" stroke-width="1.05"/>
<line x1="327.30" y1="212.50" x2="329.50" y2="212.50" stroke="#000" stroke-opacity="0.68" stroke-width="1.05"/>
<line x1="327.30" y1="257.00" x2="329.50" y2="257.00" stroke="#000" stroke-opacity="0.68" stroke-width="1.05"/>
<line x1="327.30" y1="301.50" x2="329.50" y2="301.50" stroke="#000" stroke-opacity="0.68" stroke-width="1.05"/>
<line x1="329.50" y1="318.40" x2="329.50" y2="320.60" stroke="#000" stroke-opacity="0.68" stroke-width="1.05"/>
<line x1="354.95" y1="318.40" x2="354.95" y2="320.60" stroke="#000" stroke-opacity="0.68" stroke-width="1.05"/>
<line x1="380.40" y1="318.40" x2="380.40" y2="320.60" stroke="#000" stroke-opacity="0.68" stroke-width="1.05"/>
<rect x="390.10" y="17.40" width="51.30" height="301.00" fill="none" stroke="#000" stroke-opacity="0.68" stroke-width="1.05"/>
<line x1="387.90" y1="34.50" x2="390.10" y2="34.50" stroke="#000" stroke-opacity="0.68" stroke-width="1.05"/>
<line x1="387.90" y1="79.00" x2="390.10" y2="79.00" stroke="#000" stroke-opacity="0.68" stroke-width="1.05"/>
<line x1="387.90" y1="123.50" x2="390.10" y2="123.50" stroke="#000" stroke-opacity="0.68" stroke-width="1.05"/>
<line x1="387.90" y1="168.00" x2="390.10" y2="168.00" stroke="#000" stroke-opacity="0.68" stroke-width="1.05"/>
<line x1="387.90" y1="212.50" x2="390.10" y2="212.50" stroke="#000" stroke-opacity="0.68" stroke-width="1.05"/>
<line x1="387.90" y1="257.00" x2="390.10" y2="257.00" stroke="#000" stroke-opacity="0.68" stroke-width="1.05"/>
<line x1="387.90" y1="301.50" x2="390.10" y2="301.50" stroke="#000" stroke-opacity="0.68" stroke-width="1.05"/>
<line x1="390.10" y1="318.40" x2="390.10" y2="320.60" stroke="#000" stroke-opacity="0.68" stroke-width="1.05"/>
<line x1="415.75" y1="318.40" x2="415.75" y2="320.60" stroke="#000" stroke-opacity="0.68" stroke-width="1.05"/>
<line x1="441.40" y1="318.40" x2="441.40" y2="320.60" stroke="#000" stroke-opacity="0.68" stroke-width="1.05"/>
<rect x="450.60" y="17.40" width="51.20" height="301.00" fill="none" stroke="#000" stroke-opacity="0.68" stroke-width="1.05"/>
<line x1="448.40" y1="34.50" x2="450.60" y2="34.50" stroke="#000" stroke-opacity="0.68" stroke-width="1.05"/>
<line x1="448.40" y1="79.00" x2="450.60" y2="79.00" stroke="#000" stroke-opacity="0.68" stroke-width="1.05"/>
<line x1="448.40" y1="123.50" x2="450.60" y2="123.50" stroke="#000" stroke-opacity="0.68" stroke-width="1.05"/>
<line x1="448.40" y1="168.00" x2="450.60" y2="168.00" stroke="#000" stroke-opacity="0.68" stroke-width="1.05"/>
<line x1="448.40" y1="212.50" x2="450.60" y2="212.50" stroke="#000" stroke-opacity="0.68" stroke-width="1.05"/>
<line x1="448.40" y1="257.00" x2="450.60" y2="257.00" stroke="#000" stroke-opacity="0.68" stroke-width="1.05"/>
<line x1="448.40" y1="301.50" x2="450.60" y2="301.50" stroke="#000" stroke-opacity="0.68" stroke-width="1.05"/>
<line x1="450.60" y1="318.40" x2="450.60" y2="320.60" stroke="#000" stroke-opacity="0.68" stroke-width="1.05"/>
<line x1="476.20" y1="318.40" x2="476.20" y2="320.60" stroke="#000" stroke-opacity="0.68" stroke-width="1.05"/>
<line x1="501.80" y1="318.40" x2="501.80" y2="320.60" stroke="#000" stroke-opacity="0.68" stroke-width="1.05"/>
<rect x="511.20" y="17.40" width="51.20" height="301.00" fill="none" stroke="#000" stroke-opacity="0.68" stroke-width="1.05"/>
<line x1="509.00" y1="34.50" x2="511.20" y2="34.50" stroke="#000" stroke-opacity="0.68" stroke-width="1.05"/>
<line x1="509.00" y1="79.00" x2="511.20" y2="79.00" stroke="#000" stroke-opacity="0.68" stroke-width="1.05"/>
<line x1="509.00" y1="123.50" x2="511.20" y2="123.50" stroke="#000" stroke-opacity="0.68" stroke-width="1.05"/>
<line x1="509.00" y1="168.00" x2="511.20" y2="168.00" stroke="#000" stroke-opacity="0.68" stroke-width="1.05"/>
<line x1="509.00" y1="212.50" x2="511.20" y2="212.50" stroke="#000" stroke-opacity="0.68" stroke-width="1.05"/>
<line x1="509.00" y1="257.00" x2="511.20" y2="257.00" stroke="#000" stroke-opacity="0.68" stroke-width="1.05"/>
<line x1="509.00" y1="301.50" x2="511.20" y2="301.50" stroke="#000" stroke-opacity="0.68" stroke-width="1.05"/>
<line x1="511.20" y1="318.40" x2="511.20" y2="320.60" stroke="#000" stroke-opacity="0.68" stroke-width="1.05"/>
<line x1="536.80" y1="318.40" x2="536.80" y2="320.60" stroke="#000" stroke-opacity="0.68" stroke-width="1.05"/>
<line x1="562.40" y1="318.40" x2="562.40" y2="320.60" stroke="#000" stroke-opacity="0.68" stroke-width="1.05"/>
<rect x="571.60" y="17.40" width="51.30" height="301.00" fill="none" stroke="#000" stroke-opacity="0.68" stroke-width="1.05"/>
<line x1="569.40" y1="34.50" x2="571.60" y2="34.50" stroke="#000" stroke-opacity="0.68" stroke-width="1.05"/>
<line x1="569.40" y1="79.00" x2="571.60" y2="79.00" stroke="#000" stroke-opacity="0.68" stroke-width="1.05"/>
<line x1="569.40" y1="123.50" x2="571.60" y2="123.50" stroke="#000" stroke-opacity="0.68" stroke-width="1.05"/>
<line x1="569.40" y1="168.00" x2="571.60" y2="168.00" stroke="#000" stroke-opacity="0.68" stroke-width="1.05"/>
<line x1="569.40" y1="212.50" x2="571.60" y2="212.50" stroke="#000" stroke-opacity="0.68" stroke-width="1.05"/>
<line x1="569.40" y1="257.00" x2="571.60" y2="257.00" stroke="#000" stroke-opacity="0.68" stroke-width="1.05"/>
<line x1="569.40" y1="301.50" x2="571.60" y2="301.50" stroke="#000" stroke-opacity="0.68" stroke-width="1.05"/>
<line x1="571.60" y1="318.40" x2="571.60" y2="320.60" stroke="#000" stroke-opacity="0.68" stroke-width="1.05"/>
<line x1="597.25" y1="318.40" x2="597.25" y2="320.60" stroke="#000" stroke-opacity="0.68" stroke-width="1.05"/>
<line x1="622.90" y1="318.40" x2="622.90" y2="320.60" stroke="#000" stroke-opacity="0.68" stroke-width="1.05"/>
<rect x="632.60" y="17.40" width="50.90" height="301.00" fill="none" stroke="#000" stroke-opacity="0.68" stroke-width="1.05"/>
<line x1="630.40" y1="34.50" x2="632.60" y2="34.50" stroke="#000" stroke-opacity="0.68" stroke-width="1.05"/>
<line x1="630.40" y1="79.00" x2="632.60" y2="79.00" stroke="#000" stroke-opacity="0.68" stroke-width="1.05"/>
<line x1="630.40" y1="123.50" x2="632.60" y2="123.50" stroke="#000" stroke-opacity="0.68" stroke-width="1.05"/>
<line x1="630.40" y1="168.00" x2="632.60" y2="168.00" stroke="#000" stroke-opacity="0.68" stroke-width="1.05"/>
<line x1="630.40" y1="212.50" x2="632.60" y2="212.50" stroke="#000" stroke-opacity="0.68" stroke-width="1.05"/>
<line x1="630.40" y1="257.00" x2="632.60" y2="257.00" stroke="#000" stroke-opacity="0.68" stroke-width="1.05"/>
<line x1="630.40" y1="301.50" x2="632.60" y2="301.50" stroke="#000" stroke-opacity="0.68" stroke-width="1.05"/>
<line x1="632.60" y1="318.40" x2="632.60" y2="320.60" stroke="#000" stroke-opacity="0.68" stroke-width="1.05"/>
<line x1="658.05" y1="318.40" x2="658.05" y2="320.60" stroke="#000" stroke-opacity="0.68" stroke-width="1.05"/>
<line x1="683.50" y1="318.40" x2="683.50" y2="320.60" stroke="#000" stroke-opacity="0.68" stroke-width="1.05"/>
<text x="25.0" y="37.10" font-size="7" text-anchor="end" fill="#1a1a1a">&#8722;40</text>
<text x="25.0" y="81.60" font-size="7" text-anchor="end" fill="#1a1a1a">&#8722;50</text>
<text x="25.0" y="126.10" font-size="7" text-anchor="end" fill="#1a1a1a">&#8722;60</text>
<text x="25.0" y="170.60" font-size="7" text-anchor="end" fill="#1a1a1a">&#8722;70</text>
<text x="25.0" y="215.10" font-size="7" text-anchor="end" fill="#1a1a1a">&#8722;80</text>
<text x="25.0" y="259.60" font-size="7" text-anchor="end" fill="#1a1a1a">&#8722;90</text>
<text x="25.0" y="304.10" font-size="7" text-anchor="end" fill="#1a1a1a">&#8722;100</text>
<text transform="translate(7.6,150.3) rotate(-90)" font-size="9.2" text-anchor="middle" fill="#1a1a1a" style="stroke-width:0.1px" textLength="46.6" lengthAdjust="spacingAndGlyphs">Depth [km]</text>
<text x="23.50" y="326.7" font-size="6.9" class="s" fill="#1a1a1a">10</text>
<text x="30.30" y="324.3" font-size="5.0" class="s" fill="#1a1a1a">7</text>
<text x="56.70" y="326.7" font-size="6.9" class="s" fill="#1a1a1a">10</text>
<text x="63.50" y="324.3" font-size="5.0" class="s" fill="#1a1a1a">13</text>
<text x="87.10" y="326.7" font-size="6.9" text-anchor="middle" class="s" fill="#1a1a1a">&#8722;1</text>
<text x="112.55" y="326.7" font-size="6.9" text-anchor="middle" class="s" fill="#1a1a1a">0</text>
<text x="138.35" y="326.7" font-size="6.9" text-anchor="middle" class="s" fill="#1a1a1a">1</text>
<text x="148.20" y="326.7" font-size="6.9" text-anchor="middle" class="s" fill="#1a1a1a">&#8722;1</text>
<text x="173.35" y="326.7" font-size="6.9" text-anchor="middle" class="s" fill="#1a1a1a">0</text>
<text x="198.85" y="326.7" font-size="6.9" text-anchor="middle" class="s" fill="#1a1a1a">1</text>
<text x="209.10" y="326.7" font-size="6.9" text-anchor="middle" class="s" fill="#1a1a1a">&#8722;1</text>
<text x="234.10" y="326.7" font-size="6.9" text-anchor="middle" class="s" fill="#1a1a1a">0</text>
<text x="259.45" y="326.7" font-size="6.9" text-anchor="middle" class="s" fill="#1a1a1a">1</text>
<text x="269.30" y="326.7" font-size="6.9" text-anchor="middle" class="s" fill="#1a1a1a">&#8722;1</text>
<text x="294.70" y="326.7" font-size="6.9" text-anchor="middle" class="s" fill="#1a1a1a">0</text>
<text x="320.45" y="326.7" font-size="6.9" text-anchor="middle" class="s" fill="#1a1a1a">1</text>
<text x="330.10" y="326.7" font-size="6.9" text-anchor="middle" class="s" fill="#1a1a1a">&#8722;1</text>
<text x="355.10" y="326.7" font-size="6.9" text-anchor="middle" class="s" fill="#1a1a1a">0</text>
<text x="380.45" y="326.7" font-size="6.9" text-anchor="middle" class="s" fill="#1a1a1a">1</text>
<text x="390.70" y="326.7" font-size="6.9" text-anchor="middle" class="s" fill="#1a1a1a">&#8722;1</text>
<text x="415.90" y="326.7" font-size="6.9" text-anchor="middle" class="s" fill="#1a1a1a">0</text>
<text x="441.45" y="326.7" font-size="6.9" text-anchor="middle" class="s" fill="#1a1a1a">1</text>
<text x="451.20" y="326.7" font-size="6.9" text-anchor="middle" class="s" fill="#1a1a1a">&#8722;1</text>
<text x="476.35" y="326.7" font-size="6.9" text-anchor="middle" class="s" fill="#1a1a1a">0</text>
<text x="501.85" y="326.7" font-size="6.9" text-anchor="middle" class="s" fill="#1a1a1a">1</text>
<text x="511.80" y="326.7" font-size="6.9" text-anchor="middle" class="s" fill="#1a1a1a">&#8722;1</text>
<text x="536.95" y="326.7" font-size="6.9" text-anchor="middle" class="s" fill="#1a1a1a">0</text>
<text x="562.45" y="326.7" font-size="6.9" text-anchor="middle" class="s" fill="#1a1a1a">1</text>
<text x="572.20" y="326.7" font-size="6.9" text-anchor="middle" class="s" fill="#1a1a1a">&#8722;1</text>
<text x="597.40" y="326.7" font-size="6.9" text-anchor="middle" class="s" fill="#1a1a1a">0</text>
<text x="622.95" y="326.7" font-size="6.9" text-anchor="middle" class="s" fill="#1a1a1a">1</text>
<text x="633.20" y="326.7" font-size="6.9" text-anchor="middle" class="s" fill="#1a1a1a">&#8722;1</text>
<text x="658.20" y="326.7" font-size="6.9" text-anchor="middle" class="s" fill="#1a1a1a">0</text>
<text x="683.55" y="326.7" font-size="6.9" text-anchor="middle" class="s" fill="#1a1a1a">1</text>
<text x="33.3" y="337.7" font-size="8.4" font-weight="bold" fill="#1a1a1a" textLength="5.6" lengthAdjust="spacingAndGlyphs">&#945;</text>
<text x="42.7" y="337.7" font-size="8.9" fill="#1a1a1a" textLength="31.8" lengthAdjust="spacingAndGlyphs">[Pa s/m]</text>
<text x="91.80" y="337.7" font-size="9.6" class="s" fill="#1a1a1a">&#916;</text>
<text x="100.70" y="337.7" font-size="9.3" class="s" fill="#1a1a1a" textLength="10.8" lengthAdjust="spacingAndGlyphs">log</text>
<text x="111.40" y="339.9" font-size="6.6" class="s" fill="#1a1a1a" textLength="6.5" lengthAdjust="spacingAndGlyphs">10</text>
<text x="119.80" y="337.7" font-size="9.0" class="s" fill="#1a1a1a" textLength="5.0" lengthAdjust="spacingAndGlyphs">&#945;</text>
<text x="125.20" y="334.6" font-size="6.4" fill="#1a1a1a" textLength="8.4" lengthAdjust="spacingAndGlyphs">pre</text>
<text x="152.60" y="337.7" font-size="9.6" class="s" fill="#1a1a1a">&#916;</text>
<text x="161.50" y="337.7" font-size="9.3" class="s" fill="#1a1a1a" textLength="10.8" lengthAdjust="spacingAndGlyphs">log</text>
<text x="172.20" y="339.9" font-size="6.6" class="s" fill="#1a1a1a" textLength="6.5" lengthAdjust="spacingAndGlyphs">10</text>
<text x="180.60" y="337.7" font-size="9.0" class="s" fill="#1a1a1a" textLength="5.0" lengthAdjust="spacingAndGlyphs">&#945;</text>
<text x="186.00" y="334.6" font-size="6.4" fill="#1a1a1a" textLength="8.6" lengthAdjust="spacingAndGlyphs">post</text>
<text x="213.35" y="337.7" font-size="9.6" class="s" fill="#1a1a1a">&#916;</text>
<text x="222.25" y="337.7" font-size="9.3" class="s" fill="#1a1a1a" textLength="10.8" lengthAdjust="spacingAndGlyphs">log</text>
<text x="232.95" y="339.9" font-size="6.6" class="s" fill="#1a1a1a" textLength="6.5" lengthAdjust="spacingAndGlyphs">10</text>
<text x="241.35" y="337.7" font-size="9.0" class="s" fill="#1a1a1a" textLength="5.0" lengthAdjust="spacingAndGlyphs">&#945;</text>
<text x="246.75" y="334.6" font-size="6.4" fill="#1a1a1a" textLength="8.4" lengthAdjust="spacingAndGlyphs">pre</text>
<text x="273.95" y="337.7" font-size="9.6" class="s" fill="#1a1a1a">&#916;</text>
<text x="282.85" y="337.7" font-size="9.3" class="s" fill="#1a1a1a" textLength="10.8" lengthAdjust="spacingAndGlyphs">log</text>
<text x="293.55" y="339.9" font-size="6.6" class="s" fill="#1a1a1a" textLength="6.5" lengthAdjust="spacingAndGlyphs">10</text>
<text x="301.95" y="337.7" font-size="9.0" class="s" fill="#1a1a1a" textLength="5.0" lengthAdjust="spacingAndGlyphs">&#945;</text>
<text x="307.35" y="334.6" font-size="6.4" fill="#1a1a1a" textLength="8.6" lengthAdjust="spacingAndGlyphs">post</text>
<text x="334.35" y="337.7" font-size="9.6" class="s" fill="#1a1a1a">&#916;</text>
<text x="343.25" y="337.7" font-size="9.3" class="s" fill="#1a1a1a" textLength="10.8" lengthAdjust="spacingAndGlyphs">log</text>
<text x="353.95" y="339.9" font-size="6.6" class="s" fill="#1a1a1a" textLength="6.5" lengthAdjust="spacingAndGlyphs">10</text>
<text x="362.35" y="337.7" font-size="9.0" class="s" fill="#1a1a1a" textLength="5.0" lengthAdjust="spacingAndGlyphs">&#945;</text>
<text x="367.75" y="334.6" font-size="6.4" fill="#1a1a1a" textLength="8.4" lengthAdjust="spacingAndGlyphs">pre</text>
<text x="395.15" y="337.7" font-size="9.6" class="s" fill="#1a1a1a">&#916;</text>
<text x="404.05" y="337.7" font-size="9.3" class="s" fill="#1a1a1a" textLength="10.8" lengthAdjust="spacingAndGlyphs">log</text>
<text x="414.75" y="339.9" font-size="6.6" class="s" fill="#1a1a1a" textLength="6.5" lengthAdjust="spacingAndGlyphs">10</text>
<text x="423.15" y="337.7" font-size="9.0" class="s" fill="#1a1a1a" textLength="5.0" lengthAdjust="spacingAndGlyphs">&#945;</text>
<text x="428.55" y="334.6" font-size="6.4" fill="#1a1a1a" textLength="8.6" lengthAdjust="spacingAndGlyphs">post</text>
<text x="455.60" y="337.7" font-size="9.6" class="s" fill="#1a1a1a">&#916;</text>
<text x="464.50" y="337.7" font-size="9.3" class="s" fill="#1a1a1a" textLength="10.8" lengthAdjust="spacingAndGlyphs">log</text>
<text x="475.20" y="339.9" font-size="6.6" class="s" fill="#1a1a1a" textLength="6.5" lengthAdjust="spacingAndGlyphs">10</text>
<text x="483.60" y="337.7" font-size="9.0" class="s" fill="#1a1a1a" textLength="5.0" lengthAdjust="spacingAndGlyphs">&#945;</text>
<text x="489.00" y="334.6" font-size="6.4" fill="#1a1a1a" textLength="8.4" lengthAdjust="spacingAndGlyphs">pre</text>
<text x="516.20" y="337.7" font-size="9.6" class="s" fill="#1a1a1a">&#916;</text>
<text x="525.10" y="337.7" font-size="9.3" class="s" fill="#1a1a1a" textLength="10.8" lengthAdjust="spacingAndGlyphs">log</text>
<text x="535.80" y="339.9" font-size="6.6" class="s" fill="#1a1a1a" textLength="6.5" lengthAdjust="spacingAndGlyphs">10</text>
<text x="544.20" y="337.7" font-size="9.0" class="s" fill="#1a1a1a" textLength="5.0" lengthAdjust="spacingAndGlyphs">&#945;</text>
<text x="549.60" y="334.6" font-size="6.4" fill="#1a1a1a" textLength="8.6" lengthAdjust="spacingAndGlyphs">post</text>
<text x="576.65" y="337.7" font-size="9.6" class="s" fill="#1a1a1a">&#916;</text>
<text x="585.55" y="337.7" font-size="9.3" class="s" fill="#1a1a1a" textLength="10.8" lengthAdjust="spacingAndGlyphs">log</text>
<text x="596.25" y="339.9" font-size="6.6" class="s" fill="#1a1a1a" textLength="6.5" lengthAdjust="spacingAndGlyphs">10</text>
<text x="604.65" y="337.7" font-size="9.0" class="s" fill="#1a1a1a" textLength="5.0" lengthAdjust="spacingAndGlyphs">&#945;</text>
<text x="610.05" y="334.6" font-size="6.4" fill="#1a1a1a" textLength="8.4" lengthAdjust="spacingAndGlyphs">pre</text>
<text x="637.45" y="337.7" font-size="9.6" class="s" fill="#1a1a1a">&#916;</text>
<text x="646.35" y="337.7" font-size="9.3" class="s" fill="#1a1a1a" textLength="10.8" lengthAdjust="spacingAndGlyphs">log</text>
<text x="657.05" y="339.9" font-size="6.6" class="s" fill="#1a1a1a" textLength="6.5" lengthAdjust="spacingAndGlyphs">10</text>
<text x="665.45" y="337.7" font-size="9.0" class="s" fill="#1a1a1a" textLength="5.0" lengthAdjust="spacingAndGlyphs">&#945;</text>
<text x="670.85" y="334.6" font-size="6.4" fill="#1a1a1a" textLength="8.6" lengthAdjust="spacingAndGlyphs">post</text>
<text x="54.30" y="6.30" font-size="8.2" text-anchor="middle" fill="#1a1a1a" textLength="16.2" lengthAdjust="spacingAndGlyphs">True</text>
<text x="54.10" y="14.70" font-size="8.2" text-anchor="middle" fill="#1a1a1a" textLength="30.6" lengthAdjust="spacingAndGlyphs">Viscosity</text>
<text x="143.00" y="6.30" font-size="8.2" text-anchor="middle" fill="#1a1a1a" textLength="30.2" lengthAdjust="spacingAndGlyphs">Case (1)</text>
<text x="143.05" y="14.70" font-size="8.2" text-anchor="middle" fill="#1a1a1a" textLength="16.9" lengthAdjust="spacingAndGlyphs">Base</text>
<text x="263.65" y="6.30" font-size="8.2" text-anchor="middle" fill="#1a1a1a" textLength="30.1" lengthAdjust="spacingAndGlyphs">Case (2)</text>
<text x="263.75" y="14.70" font-size="8.2" text-anchor="middle" fill="#1a1a1a" textLength="40.7" lengthAdjust="spacingAndGlyphs">Postseismic</text>
<text x="385.45" y="6.30" font-size="8.2" text-anchor="middle" fill="#1a1a1a" textLength="30.3" lengthAdjust="spacingAndGlyphs">Case (3)</text>
<text x="385.25" y="14.70" font-size="8.2" text-anchor="middle" fill="#1a1a1a" textLength="65.9" lengthAdjust="spacingAndGlyphs">Gap + Postseismic</text>
<text x="506.45" y="6.30" font-size="8.2" text-anchor="middle" fill="#1a1a1a" textLength="29.7" lengthAdjust="spacingAndGlyphs">Case (4)</text>
<text x="506.40" y="14.70" font-size="8.2" text-anchor="middle" fill="#1a1a1a" textLength="134.4" lengthAdjust="spacingAndGlyphs">Gap + Postseismic + Slip Uncertainty</text>
<text x="627.30" y="6.30" font-size="8.2" text-anchor="middle" fill="#1a1a1a" textLength="30.2" lengthAdjust="spacingAndGlyphs">Case (5)</text>
<text x="627.85" y="14.70" font-size="8.2" text-anchor="middle" fill="#1a1a1a" textLength="67.7" lengthAdjust="spacingAndGlyphs">Timing Uncertainty</text>
</svg></body></html>
